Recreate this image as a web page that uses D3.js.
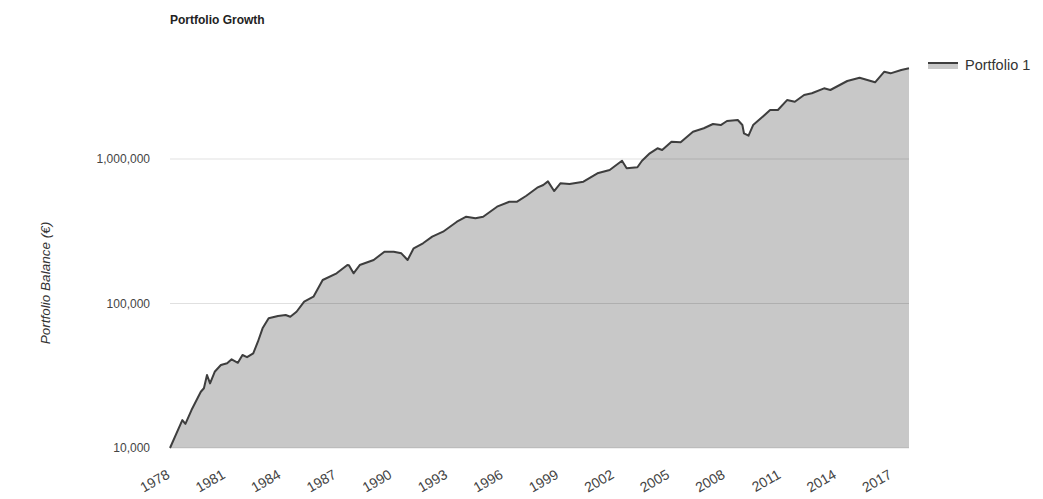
<!DOCTYPE html>
<html>
<head>
<meta charset="utf-8">
<script src="https://cdn.jsdelivr.net/npm/d3@7"></script>
<style>
  html, body { margin: 0; padding: 0; background: #fff; }
  svg { display: block; font-family: Arial, "Liberation Sans", sans-serif; }
</style>
</head>
<body>
<svg id="chart" width="1043" height="499"></svg>
<script>
// ---- Data ----
const seriesName = "Portfolio 1";
const dates = [
  "1978-01","1978-09","1978-11","1979-03","1979-09","1979-11","1980-01","1980-03","1980-06","1980-10",
  "1981-02","1981-05","1981-09","1981-12","1982-03","1982-07","1982-10","1983-01","1983-05","1983-11",
  "1984-04","1984-07","1984-11","1985-04","1985-10","1986-04","1987-01","1987-08","1987-09","1987-12",
  "1988-04","1989-01","1989-08","1990-02","1990-07","1990-11","1991-03","1991-09","1992-03","1992-10",
  "1993-07","1994-01","1994-07","1994-12","1995-09","1996-05","1996-10","1997-04","1997-11","1998-03",
  "1998-06","1998-10","1999-02","1999-08","2000-05","2001-02","2001-10","2002-06","2002-09","2003-04",
  "2003-07","2003-12","2004-05","2004-08","2005-02","2005-08","2006-04","2006-11","2007-05","2007-10",
  "2008-02","2008-09","2008-12","2009-01","2009-04","2009-07","2009-12","2010-06","2010-11","2011-05",
  "2011-10","2012-04","2012-09","2013-05","2013-09","2014-08","2015-04","2015-09","2016-02","2016-08",
  "2016-12","2017-07","2017-12"
];
const balances = [
  10000,15600,14700,18300,24500,25900,32000,28000,33700,37500,
  38600,41100,38900,44000,42500,45200,54400,67300,79000,82000,
  83200,81000,87700,102900,111400,145400,161800,184600,184000,161800,
  184600,200000,228300,228300,222400,200000,240900,261000,290000,314000,
  368000,398700,388700,398700,467700,506400,506400,557000,633000,661000,
  700000,600500,679000,671000,696500,796000,839000,973000,862400,876200,
  973000,1095000,1186000,1154000,1317000,1305000,1545000,1632000,1746000,1718000,
  1832000,1862000,1718000,1506000,1450000,1718000,1913000,2183000,2183000,2558000,
  2492000,2771000,2850000,3085000,3003000,3466000,3652000,3521000,3395000,4020000,
  3916000,4130000,4245000
];
const yTicks = [10000, 100000, 1000000];
const xTickYears = [1978,1981,1984,1987,1990,1993,1996,1999,2002,2005,2008,2011,2014,2017];
const chartTitle = "Portfolio Growth";
const yAxisTitle = "Portfolio Balance (€)";

// ---- Build ----
const parse = d3.timeParse("%Y-%m");
const data = dates.map((d, i) => ({ date: parse(d), value: balances[i] }));

const svg = d3.select("#chart");
const left = 170, right = 909, bottom = 448, y1M = 159;

const x = d3.scaleTime()
  .domain([parse("1978-01"), parse("2017-12")])
  .range([left, right]);
const y = d3.scaleLog()
  .domain([10000, 1000000])
  .range([bottom, y1M]);

const area = d3.area()
  .x(d => x(d.date))
  .y0(bottom)
  .y1(d => y(d.value));
const line = d3.line()
  .x(d => x(d.date))
  .y(d => y(d.value));

svg.append("path")
  .datum(data)
  .attr("d", area)
  .attr("fill", "#c8c8c8");

// gridlines (drawn translucent so they darken inside the area)
svg.append("g").selectAll("line")
  .data(yTicks)
  .join("line")
  .attr("x1", left).attr("x2", right)
  .attr("y1", d => y(d)).attr("y2", d => y(d))
  .attr("stroke", "#000").attr("stroke-opacity", 0.12).attr("stroke-width", 1);

svg.append("path")
  .datum(data)
  .attr("d", line)
  .attr("fill", "none")
  .attr("stroke", "#3e3e3e")
  .attr("stroke-width", 2)
  .attr("stroke-linejoin", "round");

// y axis labels
const yAxis = d3.axisLeft(y)
  .tickValues(yTicks)
  .tickFormat(d3.format(","))
  .tickSize(0)
  .tickPadding(0);
const yg = svg.append("g")
  .attr("transform", `translate(150,0)`)
  .call(yAxis);
yg.select(".domain").remove();
yg.selectAll("text")
  .attr("fill", "#444")
  .style("font-size", "12px")
  .style("font-family", "Arial, 'Liberation Sans', sans-serif");

// x axis labels
const xAxis = d3.axisBottom(x)
  .tickValues(xTickYears.map(yr => new Date(yr, 0, 1)))
  .tickFormat(d3.timeFormat("%Y"))
  .tickSize(0)
  .tickPadding(0);
const xg = svg.append("g")
  .attr("transform", `translate(-4,${bottom + 22})`)
  .call(xAxis);
xg.select(".domain").remove();
xg.selectAll("text")
  .attr("fill", "#444")
  .style("font-size", "14px")
  .style("font-family", "Arial, 'Liberation Sans', sans-serif")
  .attr("text-anchor", "end")
  .attr("y", 0)
  .attr("dy", "0.6em")
  .attr("transform", "rotate(-30)");

// title
svg.append("text")
  .attr("x", left).attr("y", 24)
  .attr("font-size", 12)
  .attr("font-weight", "bold")
  .attr("fill", "#222")
  .text(chartTitle);

// y axis title
svg.append("text")
  .attr("transform", `translate(50,283) rotate(-90)`)
  .attr("text-anchor", "middle")
  .attr("font-size", 13.5)
  .attr("font-style", "italic")
  .attr("fill", "#333")
  .text(yAxisTitle);

// legend
const lg = svg.append("g").attr("transform", "translate(928,62)");
lg.append("rect")
  .attr("x", 0).attr("y", 0).attr("width", 30).attr("height", 7)
  .attr("fill", "#c8c8c8");
lg.append("line")
  .attr("x1", 0).attr("x2", 30).attr("y1", 1).attr("y2", 1)
  .attr("stroke", "#3e3e3e").attr("stroke-width", 2);
lg.append("text")
  .attr("x", 37).attr("y", 8)
  .attr("font-size", 14.5)
  .attr("fill", "#333")
  .text(seriesName);
</script>
</body>
</html>
